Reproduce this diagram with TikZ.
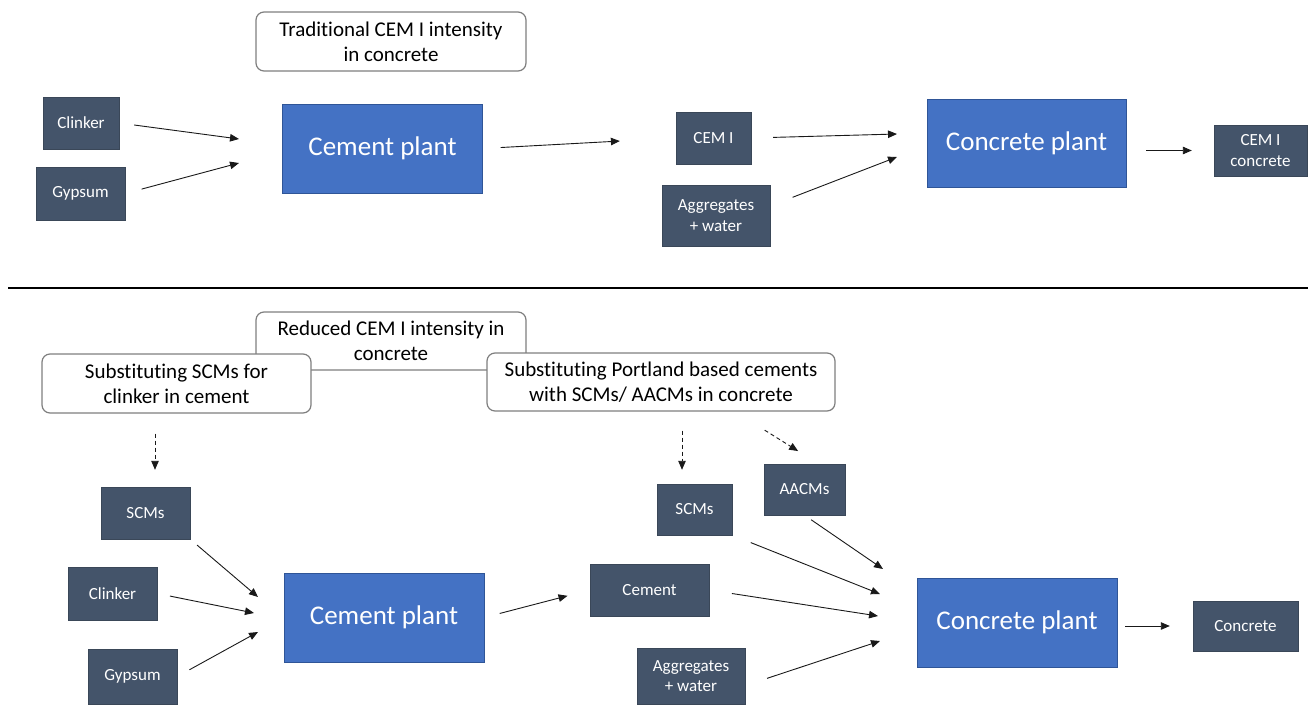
\documentclass[tikz,border=0pt]{standalone}
\usepackage{fontspec}
\setmainfont{Carlito}[Ligatures=NoCommon]
\usetikzlibrary{arrows.meta}
\definecolor{slate}{HTML}{44546A}
\definecolor{slateedge}{HTML}{3A4758}
\definecolor{plantblue}{HTML}{4472C4}
\definecolor{plantedge}{HTML}{2F5597}
\definecolor{notegray}{HTML}{7F7F7F}

\begin{document}
\begin{tikzpicture}[x=1pt,y=-1pt, %pixel grid, y runs down
  darkbox/.style={draw=slateedge, fill=slate, text=white, inner sep=0, align=center, font=\fontsize{17}{20.5}\selectfont},
  plantbox/.style={draw=plantedge, fill=plantblue, text=white, inner sep=0, minimum width=200, minimum height=89, font=\fontsize{27}{32}\selectfont},
  note/.style={draw=notegray, line width=1.2pt, fill=white, rounded corners=8pt, inner sep=0, align=center, font=\fontsize{21}{25}\selectfont},
  flow/.style={draw=black!90, line width=0.9pt, -{Triangle[length=9pt,width=7.5pt]}},
  dashflow/.style={flow, dash pattern=on 4pt off 3pt}]
\useasboundingbox (0,0) rectangle (1308,704);

% traditional route
\node[note, minimum width=270, minimum height=59] (tradNote) at (391,41.5) {Traditional CEM I intensity\\in concrete};
\node[darkbox, minimum width=76, minimum height=52] (clinkerA) at (81,123) {Clinker};
\node[darkbox, minimum width=89, minimum height=53] (gypsumA) at (80.5,193.5) {Gypsum};
\node[plantbox] (cemplA) at (382.5,148.5) {Cement plant};
\node[darkbox, minimum width=75, minimum height=52] (cemA) at (713.5,138) {CEM I};
\node[darkbox, minimum width=108, minimum height=61] (aggA) at (716,215.5) {Aggregates\\+ water};
\node[plantbox, minimum width=199, minimum height=88] (concplA) at (1026.5,143) {Concrete plant};
\node[darkbox, minimum width=93, minimum height=51] (cemconc) at (1260.5,150.5) {CEM I\\concrete};

\coordinate (inA1) at (239,139);
\coordinate (inA2) at (239,163);
\coordinate (inA3) at (897,134);
\coordinate (inA4) at (897,157);

\draw[flow, shorten <=15] (clinkerA.east) -- (inA1);
\draw[flow, shorten <=17] (gypsumA.east) -- (inA2);
\draw[flow, shorten <=18, shorten >=56] (cemplA.east) -- (cemA.west);
\draw[flow, shorten <=22] (cemA.east) -- (inA3);
\draw[flow, shorten <=24] (aggA.10) -- (inA4);
\draw[flow, shorten <=20, shorten >=22] (concplA.east |- cemconc) -- (cemconc.west);

\draw[line width=1.8pt] (8,288) -- (1308,288);

% reduced route
\node[note, minimum width=270, minimum height=58] (redNote) at (391,341) {Reduced CEM I intensity in\\concrete};
\node[note, minimum width=269, minimum height=59] (leftNote) at (176.5,383.5) {Substituting SCMs for\\clinker in cement};
\node[note, minimum width=348, minimum height=58] (rightNote) at (661,382) {Substituting Portland based cements\\with SCMs/ AACMs in concrete};

\node[darkbox, minimum width=89, minimum height=52] (scmB) at (145.5,513) {SCMs};
\node[darkbox, minimum width=89, minimum height=53] (clinkerB) at (112.5,593.5) {Clinker};
\node[darkbox, minimum width=89, minimum height=55] (gypsumB) at (132.5,676.5) {Gypsum};
\node[plantbox] (cemplB) at (384,617.5) {Cement plant};
\node[darkbox, minimum width=119, minimum height=52] (cementB) at (649.5,590) {Cement};
\node[darkbox, minimum width=75, minimum height=51] (scmC) at (694.5,509.5) {SCMs};
\node[darkbox, minimum width=81, minimum height=51] (aacm) at (804.5,489.5) {AACMs};
\node[darkbox, minimum width=108, minimum height=56] (aggB) at (691,676) {Aggregates\\+ water};
\node[plantbox] (concplB) at (1017,622.5) {Concrete plant};
\node[darkbox, minimum width=105, minimum height=50] (concB) at (1245.5,626) {Concrete};

\coordinate (inB1) at (258,597);
\coordinate (inB2) at (254,613);
\coordinate (inB3) at (258,632);
\coordinate (inC1) at (883,569);
\coordinate (inC2) at (880,594);
\coordinate (inC3) at (878,616);
\coordinate (inC4) at (880,641);

\draw[dashflow, shorten <=20, shorten >=17] ([xshift=-21.5pt]leftNote.south) -- ([xshift=9.5pt]scmB.north);
\draw[dashflow, shorten <=19, shorten >=14] ([xshift=21pt]rightNote.south) -- ([xshift=-12.5pt]scmC.north);
\draw[dashflow, shorten <=35, shorten >=24] ([xshift=74pt]rightNote.south) -- ([xshift=14pt]aacm.north);

\draw[flow, shorten <=9] (scmB.south east) -- (inB1);
\draw[flow, shorten <=13] (clinkerB.east) -- (inB2);
\draw[flow, shorten <=14] (gypsumB.east) -- (inB3);
\draw[flow, shorten <=16, shorten >=23] (cemplB.east) -- (cementB.west);
\draw[flow, shorten <=8] (aacm.south) -- (inC1);
\draw[flow, shorten <=20] (scmC.south east) -- (inC2);
\draw[flow, shorten <=23] (cementB.east) -- (inC3);
\draw[flow, shorten <=23] (aggB.-10) -- (inC4);
\draw[flow, shorten <=8, shorten >=23] (concplB.east |- concB) -- (concB.west);
\end{tikzpicture}
\end{document}
